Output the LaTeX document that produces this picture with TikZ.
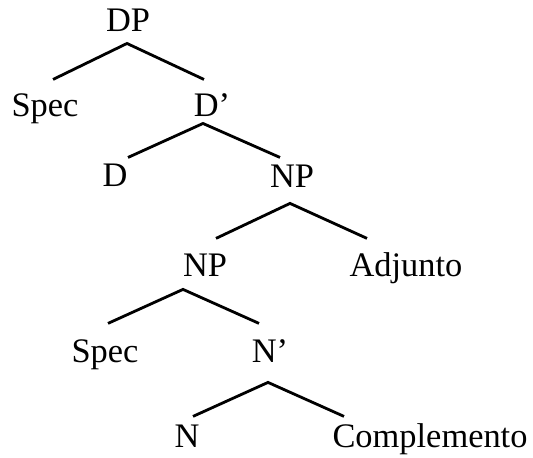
\documentclass[tikz,border=0pt]{standalone}
\usepackage{fontspec}
\setmainfont{Liberation Serif}
\usetikzlibrary{calc}

\begin{document}
\begin{tikzpicture}[x=0.5pt, y=-0.5pt]
			\tikzstyle{catnode}=[
			anchor=base,
			inner sep=0pt,
			font=\fontsize{17.2}{20}\selectfont
			]
			\tikzstyle{branch}=[
			line width=1.4pt,
			line join=miter
			]
			\useasboundingbox (0,0) rectangle (533,458);
			% categories, placed on their baselines
			\node[catnode] (DP) at (128,32) {DP};
			\node[catnode] (SpecD) at (45,117) {Spec};
			\node[catnode] (Dbar) at (212,117) {D’};
			\node[catnode] (D) at (115,187) {D};
			\node[catnode] (NPtop) at (292,188) {NP};
			\node[catnode] (NPlow) at (205,277) {NP};
			\node[catnode] (Adj) at (406,277) {Adjunto};
			\node[catnode] (SpecN) at (105,362) {Spec};
			\node[catnode] (Nbar) at (270,362) {N’};
			\node[catnode] (N) at (187,447) {N};
			\node[catnode] (Comp) at (430,447) {Complemento};
			%
			% forks under each mother node
			\coordinate (DPfork) at ($(DP.south)+(-1,11)$);
			\coordinate (Dbarfork) at ($(Dbar.south)+(-9,6)$);
			\coordinate (NPtopfork) at ($(NPtop.south)+(-2,15)$);
			\coordinate (NPlowfork) at ($(NPlow.south)+(-22,12)$);
			\coordinate (Nbarfork) at ($(Nbar.south)+(-2,20)$);
			%
			\draw[branch] ($(DPfork)+(-74,36)$) -- (DPfork) -- ($(DPfork)+(77,36)$);
			\draw[branch] ($(Dbarfork)+(-75,34)$) -- (Dbarfork) -- ($(Dbarfork)+(77,34)$);
			\draw[branch] ($(NPtopfork)+(-74,35)$) -- (NPtopfork) -- ($(NPtopfork)+(77,35)$);
			\draw[branch] ($(NPlowfork)+(-75,34)$) -- (NPlowfork) -- ($(NPlowfork)+(76,34)$);
			\draw[branch] ($(Nbarfork)+(-75,34)$) -- (Nbarfork) -- ($(Nbarfork)+(76,34)$);
		\end{tikzpicture}
\end{document}
